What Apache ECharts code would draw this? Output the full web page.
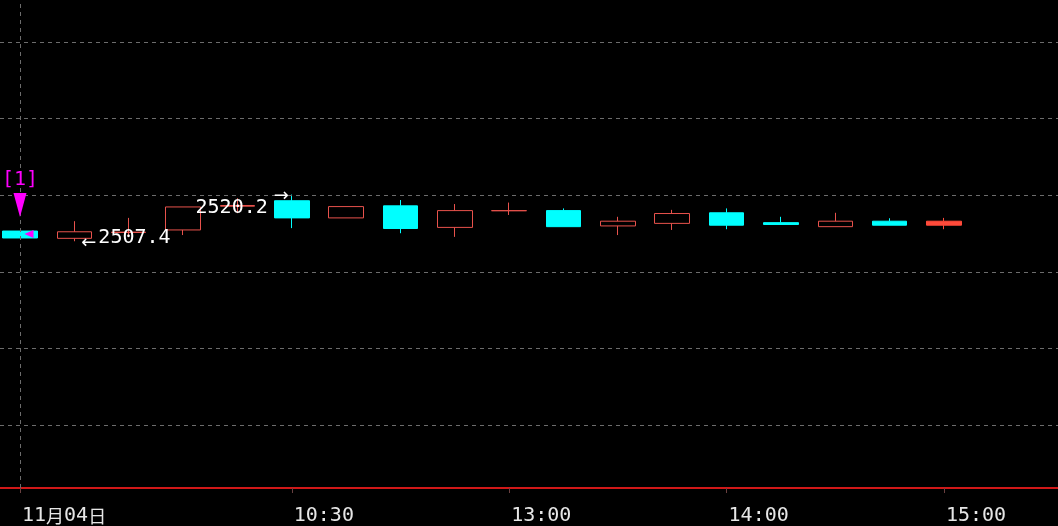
<!DOCTYPE html>
<html>
<head>
<meta charset="utf-8">
<script src="https://cdn.jsdelivr.net/npm/echarts@6/dist/echarts.min.js"></script>
<style>
html,body{margin:0;padding:0;background:#000;}
#chart{width:1058px;height:526px;}
</style>
</head>
<body>
<div id="chart"></div>
<script>
// 15-minute bars
const categories = ['09:00','09:15','09:30','09:45','10:00','10:30','10:45','11:00','11:15','13:00','13:15','13:30','13:45','14:00','14:15','14:30','14:45','15:00','',''];
const opens  = [2510.2, 2508.2, 2509.8, 2510.5, 2517.0, 2518.5, 2513.8, 2517.1, 2511.2, 2515.75, 2515.8, 2511.6, 2512.3, 2515.2, 2512.5, 2511.4, 2512.9, 2511.8];
const closes = [2508.3, 2510.0, 2509.9, 2516.8, 2517.2, 2513.8, 2516.9, 2510.9, 2515.8, 2515.8, 2511.4, 2512.9, 2515.0, 2511.8, 2512.0, 2512.9, 2511.8, 2512.9];
const highs  = [2510.2, 2512.9, 2513.8, 2516.8, 2519.2, 2520.2, 2516.9, 2518.7, 2517.6, 2518.0, 2516.4, 2514.1, 2516.0, 2516.4, 2514.1, 2515.2, 2513.7, 2513.8];
const lows   = [2508.3, 2507.4, 2508.5, 2509.1, 2515.1, 2511.0, 2513.8, 2509.6, 2508.6, 2514.6, 2511.4, 2509.1, 2510.5, 2510.7, 2512.0, 2511.4, 2511.8, 2510.7];
// x tick labels
const tickIndex = [0, 5, 9, 13, 17];
const tickText  = ['11月04日', '10:30', '13:00', '14:00', '15:00'];
// horizontal grid levels
const gridLevels = [2457, 2478, 2499, 2520, 2541, 2562];
// y range of the plot
const yMin = 2439.8, yMax = 2573.5;
// extreme labels
const maxIdx = 5, maxVal = 2520.2;
const minIdx = 1, minVal = 2507.4;

const UP = '#e8524c', DOWN = '#00ffff', LAST = '#ff4a3a';
const NUMFONT = '"DejaVu Sans Mono", monospace';

const candleData = opens.map((o, i) => {
  const item = { value: [o, closes[i], lows[i], highs[i]] };
  if (i === opens.length - 1) {
    item.itemStyle = { color: LAST, borderColor: LAST, color0: LAST, borderColor0: LAST };
  }
  return item;
});

const chart = echarts.init(document.getElementById('chart'));
chart.setOption({
  backgroundColor: '#000',
  animation: false,
  grid: [
    { left: 20, width: 54.35 * (categories.length - 1), top: 0, height: 488 },
    { left: 0, right: 0, top: 0, height: 488 }
  ],
  xAxis: [
    {
      type: 'category', gridIndex: 0,
      data: categories,
      boundaryGap: false,
      axisLine: { show: false },
      axisTick: {
        show: true, length: 5,
        interval: (i) => tickIndex.includes(i),
        lineStyle: { color: '#6a4040' }
      },
      axisLabel: {
        interval: (i) => tickIndex.includes(i),
        formatter: (v, i) => {
          const k = tickIndex.indexOf(i);
          if (k < 0) return '';
          const t = tickText[k];
          return t.replace(/([0-9:]+)/g, '{d|$1}').replace(/([月日])/g, '{c|$1}');
        },
        align: 'left',
        margin: 18,
        padding: [0, 0, 0, 2],
        rich: {
          d: { fontFamily: NUMFONT, fontSize: 20, color: '#e6e6e6' },
          c: { fontFamily: '"Noto Sans CJK SC"', fontSize: 18, color: '#e6e6e6' }
        }
      },
      splitLine: { show: false }
    },
    {
      type: 'value', gridIndex: 1, min: 0, max: 1,
      axisLine: { show: true, lineStyle: { color: '#d01818', width: 2 } },
      axisTick: { show: false }, axisLabel: { show: false }, splitLine: { show: false }
    }
  ],
  yAxis: [
    { type: 'value', gridIndex: 0, min: yMin, max: yMax, show: false, splitLine: { show: false } },
    { type: 'value', gridIndex: 1, min: yMin, max: yMax, show: false, splitLine: { show: false } }
  ],
  series: [
    {
      type: 'line', data: [], z: 1, silent: true, xAxisIndex: 1, yAxisIndex: 1,
      markLine: {
        silent: true, symbol: ['none', 'none'], label: { show: false },
        lineStyle: { type: [4, 4], color: '#6c6c6c', width: 1 },
        data: gridLevels.map(v => ({ yAxis: v }))
      }
    },
    {
      type: 'line', data: [], z: 1, silent: true, xAxisIndex: 0, yAxisIndex: 0,
      markLine: {
        silent: true, symbol: ['none', 'none'], label: { show: false },
        lineStyle: { type: [4, 4], color: '#6c6c6c', width: 1 },
        data: [{ xAxis: categories[0] }]
      }
    },
    {
      type: 'candlestick', z: 2, xAxisIndex: 0, yAxisIndex: 0,
      barWidth: 35,
      data: candleData,
      itemStyle: { color: '#000', color0: DOWN, borderColor: UP, borderColor0: DOWN, borderWidth: 1 }
    },
    {
      type: 'line', data: [], z: 5, silent: true, xAxisIndex: 0, yAxisIndex: 0,
      markPoint: {
        silent: true,
        data: [
          { coord: [categories[maxIdx], maxVal], symbol: 'circle', symbolSize: 0,
            label: { show: true, formatter: String(maxVal), position: 'inside', align: 'right', verticalAlign: 'middle',
                     offset: [-24, 13], color: '#ffffff', fontFamily: NUMFONT, fontSize: 20 } },
          { coord: [categories[maxIdx], maxVal], symbol: 'circle', symbolSize: 0,
            label: { show: true, formatter: '→', position: 'inside', align: 'right', verticalAlign: 'middle',
                     offset: [-3, 2], color: '#ffffff', fontFamily: 'DejaVu Sans', fontSize: 18 } },
          { coord: [categories[minIdx], minVal], symbol: 'circle', symbolSize: 0,
            label: { show: true, formatter: String(minVal), position: 'inside', align: 'left', verticalAlign: 'middle',
                     offset: [24, -3], color: '#ffffff', fontFamily: NUMFONT, fontSize: 20 } },
          { coord: [categories[minIdx], minVal], symbol: 'circle', symbolSize: 0,
            label: { show: true, formatter: '←', position: 'inside', align: 'left', verticalAlign: 'middle',
                     offset: [7, 2], color: '#ffffff', fontFamily: 'DejaVu Sans', fontSize: 18 } },
          { coord: [categories[0], opens[0]], symbol: 'triangle', symbolRotate: 180, symbolSize: [13, 24],
            symbolOffset: [0, -26], itemStyle: { color: '#ff00ff' }, label: { show: false } },
          { coord: [categories[0], opens[0]], symbol: 'circle', symbolSize: 0,
            label: { show: true, formatter: '[1]', position: 'inside', align: 'center', verticalAlign: 'middle',
                     offset: [0, -51], color: '#ff00ff', fontFamily: NUMFONT, fontSize: 20 } },
          { coord: [categories[0], opens[0]], symbol: 'triangle', symbolRotate: 90, symbolSize: [8, 9],
            symbolOffset: [9, 3], itemStyle: { color: '#ff00ff' }, label: { show: false } }
        ]
      }
    }
  ]
});
</script>
</body>
</html>
